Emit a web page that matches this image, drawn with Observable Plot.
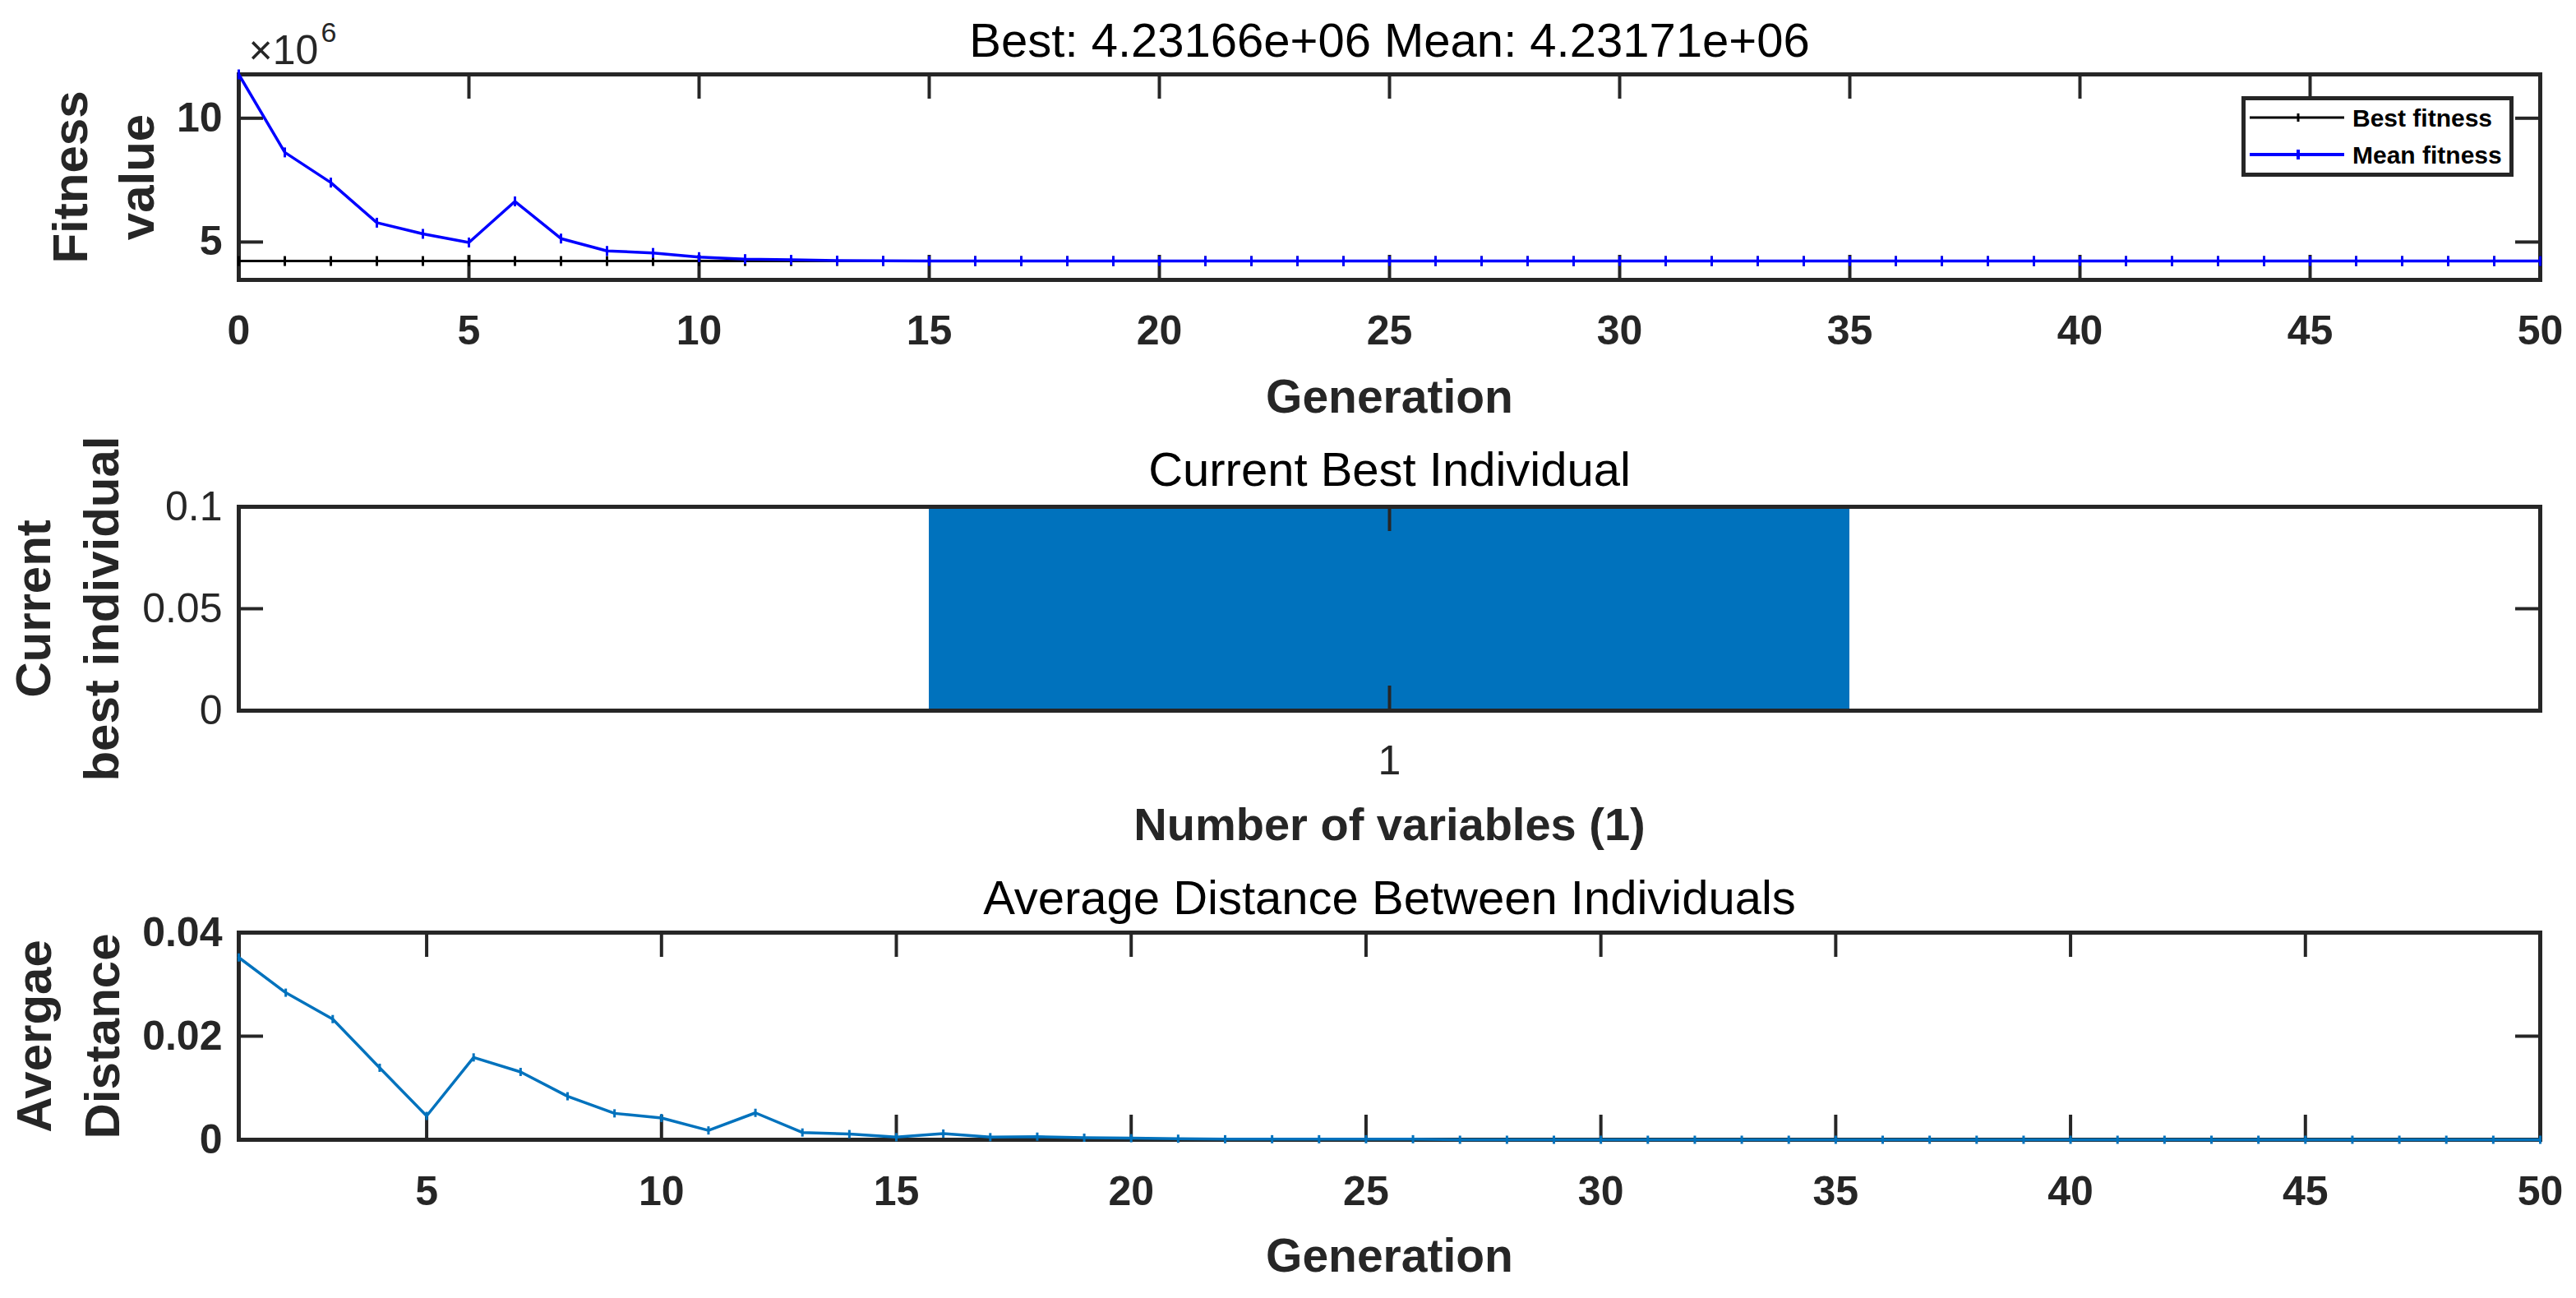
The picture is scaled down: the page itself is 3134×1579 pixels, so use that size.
<!DOCTYPE html>
<html>
<head>
<meta charset="utf-8">
<script src="https://cdn.jsdelivr.net/npm/d3@7"></script>
<script src="https://cdn.jsdelivr.net/npm/@observablehq/plot@0.6"></script>
<style>
html, body { margin: 0; padding: 0; background: #fff; overflow: hidden; }
#wrap { position: relative; width: 3134px; height: 1579px; background: #fff; }
#wrap svg { display: block; }
#legend { position: absolute; left: 2727px; top: 117px; width: 331px; height: 98px; box-sizing: border-box;
  border: 5px solid #262626; background: #fff; }
</style>
</head>
<body>
<div id="wrap"></div>
<script>
// ---------------- DATA ----------------
const fitnessTitle = "Best: 4.23166e+06 Mean: 4.23171e+06";
// Mean fitness per generation (generation 0..50)
const meanFitness = [
  11.77e6, 8.62e6, 7.40e6, 5.78e6, 5.33e6, 4.98e6, 6.64e6, 5.14e6, 4.64e6, 4.56e6,
  4.39e6, 4.31e6, 4.28e6, 4.25e6, 4.238e6, 4.234e6, 4.2325e6, 4.2320e6, 4.23171e6, 4.23171e6,
  4.23171e6, 4.23171e6, 4.23171e6, 4.23171e6, 4.23171e6, 4.23171e6, 4.23171e6, 4.23171e6, 4.23171e6, 4.23171e6,
  4.23171e6, 4.23171e6, 4.23171e6, 4.23171e6, 4.23171e6, 4.23171e6, 4.23171e6, 4.23171e6, 4.23171e6, 4.23171e6,
  4.23171e6, 4.23171e6, 4.23171e6, 4.23171e6, 4.23171e6, 4.23171e6, 4.23171e6, 4.23171e6, 4.23171e6, 4.23171e6,
  4.23171e6
];
// Best fitness per generation (generation 0..50)
const bestFitness = [
  4.23166e6, 4.23166e6, 4.23166e6, 4.23166e6, 4.23166e6, 4.23166e6, 4.23166e6, 4.23166e6, 4.23166e6, 4.23166e6,
  4.23166e6, 4.23166e6, 4.23166e6, 4.23166e6, 4.23166e6, 4.23166e6, 4.23166e6, 4.23166e6, 4.23166e6, 4.23166e6,
  4.23166e6, 4.23166e6, 4.23166e6, 4.23166e6, 4.23166e6, 4.23166e6, 4.23166e6, 4.23166e6, 4.23166e6, 4.23166e6,
  4.23166e6, 4.23166e6, 4.23166e6, 4.23166e6, 4.23166e6, 4.23166e6, 4.23166e6, 4.23166e6, 4.23166e6, 4.23166e6,
  4.23166e6, 4.23166e6, 4.23166e6, 4.23166e6, 4.23166e6, 4.23166e6, 4.23166e6, 4.23166e6, 4.23166e6, 4.23166e6,
  4.23166e6
];
const fitnessXTicks = [0, 5, 10, 15, 20, 25, 30, 35, 40, 45, 50];
const fitnessYTicks = [5e6, 10e6];
const fitnessYDomain = [3.47e6, 11.77e6];

const bestIndTitle = "Current Best Individual";
const variables = [1];
const bestIndividual = [0.1];
const bestIndXTicks = [1];
const bestIndYTicks = [0, 0.05, 0.1];

const distTitle = "Average Distance Between Individuals";
// Average distance per generation (generation 1..50)
const avgDistance = [
  0.0352, 0.0284, 0.0233, 0.0139, 0.0046, 0.0159, 0.0131, 0.0084, 0.0051, 0.0042,
  0.0018, 0.0052, 0.0014, 0.0011, 0.0005, 0.0012, 0.0005, 0.0006, 0.0004, 0.0003,
  0.0002, 0.0001, 0.0001, 0.0001, 0.0001, 0.0001, 0, 0, 0, 0,
  0, 0, 0, 0, 0, 0, 0, 0, 0, 0,
  0, 0, 0, 0, 0, 0, 0, 0, 0, 0
];
const distXTicks = [5, 10, 15, 20, 25, 30, 35, 40, 45, 50];
const distYTicks = [0, 0.02, 0.04];

// ---------------- STYLE ----------------
const W = 3134;
const ML = 290, MR = 44;
const IW = W - ML - MR;
const FONT = "'Liberation Sans', Arial, Helvetica, sans-serif";
const AX = "#262626";
const TL = 30; // tick length
const vtick = {draw(ctx, size) { const h = Math.sqrt(size / Math.PI); ctx.moveTo(0, -h); ctx.lineTo(0, h); }};

function boxTicks(xt, yt, H) {
  return [
    Plot.ruleX(xt, {x: d => d, insetTop: H - TL, stroke: AX, strokeWidth: 4}),
    Plot.ruleX(xt, {x: d => d, insetBottom: H - TL, stroke: AX, strokeWidth: 4}),
    Plot.ruleY(yt, {y: d => d, insetRight: IW - TL, stroke: AX, strokeWidth: 4}),
    Plot.ruleY(yt, {y: d => d, insetLeft: IW - TL, stroke: AX, strokeWidth: 4})
  ];
}
const baseStyle = {fontFamily: FONT, background: "white", overflow: "visible"};

const wrap = document.getElementById("wrap");

// ---------------- PANEL 1: fitness ----------------
const meanData = meanFitness.map((v, i) => ({gen: i, value: v}));
const bestData = bestFitness.map((v, i) => ({gen: i, value: v}));
const H1 = 250;
const p1 = Plot.plot({
  width: W, height: 530, marginTop: 90, marginBottom: 190, marginLeft: ML, marginRight: MR,
  style: baseStyle,
  x: {domain: [0, 50], axis: null},
  y: {domain: fitnessYDomain, axis: null},
  marks: [
    Plot.frame({stroke: AX, strokeWidth: 5}),
    ...boxTicks(fitnessXTicks, fitnessYTicks, H1),
    Plot.line(bestData, {x: "gen", y: "value", stroke: "#000", strokeWidth: 3}),
    Plot.dot(bestData, {x: "gen", y: "value", symbol: vtick, r: 6, fill: "none", stroke: "#000", strokeWidth: 3}),
    Plot.line(meanData, {x: "gen", y: "value", stroke: "#0000FF", strokeWidth: 3.5}),
    Plot.dot(meanData, {x: "gen", y: "value", symbol: vtick, r: 6, fill: "none", stroke: "#0000FF", strokeWidth: 3}),
    Plot.text([fitnessTitle], {frameAnchor: "top", dy: -22, lineAnchor: "bottom", fontSize: 58, fill: "#000"}),
    Plot.text(["×10"], {frameAnchor: "top-left", textAnchor: "start", dx: 12, dy: -13, lineAnchor: "bottom", fontSize: 50, fill: AX}),
    Plot.text(["6"], {frameAnchor: "top-left", textAnchor: "start", dx: 100, dy: -40, lineAnchor: "bottom", fontSize: 34, fill: AX}),
    Plot.text(fitnessXTicks, {x: d => d, text: d => String(d), frameAnchor: "bottom", dy: 62, lineAnchor: "middle", fontSize: 50, fontWeight: "bold", fill: AX}),
    Plot.text(fitnessYTicks, {y: d => d, text: d => String(d / 1e6), frameAnchor: "left", dx: -20, textAnchor: "end", lineAnchor: "middle", fontSize: 50, fontWeight: "bold", fill: AX}),
    Plot.text(["Generation"], {frameAnchor: "bottom", dy: 143, lineAnchor: "middle", fontSize: 57, fontWeight: "bold", fill: AX}),
    Plot.text(["Fitness\nvalue"], {frameAnchor: "left", textAnchor: "middle", rotate: -90, dx: -104, lineAnchor: "bottom", lineHeight: 1.35, fontSize: 60, fontWeight: "bold", fill: AX})
  ]
});
wrap.appendChild(p1);

// legend (inside panel 1, top right)
const legend = document.createElement("div");
legend.id = "legend";
legend.innerHTML = `
<svg width="321" height="88" style="display:block;font-family:${FONT}">
  <line x1="5" x2="120" y1="21" y2="21" stroke="#000" stroke-width="3"/>
  <line x1="64" x2="64" y1="16" y2="26" stroke="#000" stroke-width="3"/>
  <text x="130" y="21" dy="0.35em" font-size="30" font-weight="bold" fill="#000">Best fitness</text>
  <line x1="5" x2="120" y1="66" y2="66" stroke="#0000FF" stroke-width="4"/>
  <line x1="64" x2="64" y1="60" y2="72" stroke="#0000FF" stroke-width="4"/>
  <text x="130" y="66" dy="0.35em" font-size="30" font-weight="bold" fill="#000">Mean fitness</text>
</svg>`;
wrap.appendChild(legend);

// ---------------- PANEL 2: current best individual ----------------
const barWidth = 0.8;
const H2 = 248;
const p2 = Plot.plot({
  width: W, height: 530, marginTop: 86, marginBottom: 196, marginLeft: ML, marginRight: MR,
  style: baseStyle,
  x: {domain: [0, 2], axis: null},
  y: {domain: [0, 0.1], axis: null},
  marks: [
    Plot.rect(variables, {x1: d => d - barWidth / 2, x2: d => d + barWidth / 2, y1: 0, y2: (d, i) => bestIndividual[i], fill: "#0072BD"}),
    Plot.frame({stroke: AX, strokeWidth: 5}),
    ...boxTicks(bestIndXTicks, bestIndYTicks, H2),
    Plot.text([bestIndTitle], {frameAnchor: "top", dy: -26, lineAnchor: "bottom", fontSize: 58, fill: "#000"}),
    Plot.text(bestIndXTicks, {x: d => d, text: d => String(d), frameAnchor: "bottom", dy: 61, lineAnchor: "middle", fontSize: 50, fill: AX}),
    Plot.text(bestIndYTicks, {y: d => d, text: d => String(d), frameAnchor: "left", dx: -20, textAnchor: "end", lineAnchor: "middle", fontSize: 50, fill: AX}),
    Plot.text(["Number of variables (1)"], {frameAnchor: "bottom", dy: 140, lineAnchor: "middle", fontSize: 56, fontWeight: "bold", fill: AX}),
    Plot.text(["Current\nbest individual"], {frameAnchor: "left", textAnchor: "middle", rotate: -90, dx: -147, lineAnchor: "bottom", lineHeight: 1.37, fontSize: 60, fontWeight: "bold", fill: AX})
  ]
});
wrap.appendChild(p2);

// ---------------- PANEL 3: average distance ----------------
const distData = avgDistance.map((v, i) => ({gen: i + 1, value: v}));
const H3 = 252;
const p3 = Plot.plot({
  width: W, height: 519, marginTop: 74, marginBottom: 193, marginLeft: ML, marginRight: MR,
  style: baseStyle,
  x: {domain: [1, 50], axis: null},
  y: {domain: [0, 0.04], axis: null},
  marks: [
    Plot.frame({stroke: AX, strokeWidth: 5}),
    ...boxTicks(distXTicks, distYTicks, H3),
    Plot.line(distData, {x: "gen", y: "value", stroke: "#0072BD", strokeWidth: 3.5}),
    Plot.dot(distData, {x: "gen", y: "value", symbol: vtick, r: 5, fill: "none", stroke: "#0072BD", strokeWidth: 3}),
    Plot.text([distTitle], {frameAnchor: "top", dy: -23, lineAnchor: "bottom", fontSize: 58, fill: "#000"}),
    Plot.text(distXTicks, {x: d => d, text: d => String(d), frameAnchor: "bottom", dy: 63, lineAnchor: "middle", fontSize: 50, fontWeight: "bold", fill: AX}),
    Plot.text(distYTicks, {y: d => d, text: d => String(d), frameAnchor: "left", dx: -20, textAnchor: "end", lineAnchor: "middle", fontSize: 50, fontWeight: "bold", fill: AX}),
    Plot.text(["Generation"], {frameAnchor: "bottom", dy: 142, lineAnchor: "middle", fontSize: 57, fontWeight: "bold", fill: AX}),
    Plot.text(["Avergae\nDistance"], {frameAnchor: "left", textAnchor: "middle", rotate: -90, dx: -146, lineAnchor: "bottom", lineHeight: 1.37, fontSize: 60, fontWeight: "bold", fill: AX})
  ]
});
wrap.appendChild(p3);
</script>
</body>
</html>
